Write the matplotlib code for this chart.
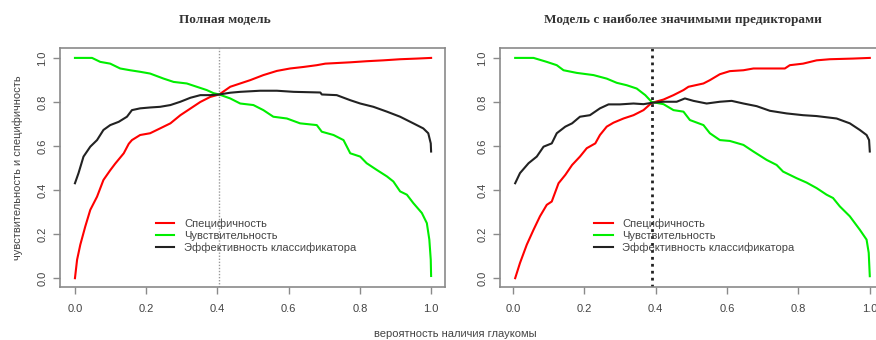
import matplotlib
matplotlib.use("Agg")
import matplotlib.pyplot as plt

# ---------------- data ----------------
titles = ["Полная модель", "Модель с наиболее значимыми предикторами"]
legend_labels = ["Специфичность", "Чувствительность", "Эффективность классификатора"]
xlabel = "вероятность наличия глаукомы"
ylabel = "чувствительность и специфичность"
ticks = [0.0, 0.2, 0.4, 0.6, 0.8, 1.0]
tick_labels = ["0.0", "0.2", "0.4", "0.6", "0.8", "1.0"]

# Left panel (full model)
full_spec_x = [0, 0.006, 0.015, 0.029, 0.043, 0.062, 0.080, 0.099, 0.113, 0.137, 0.151, 0.16, 0.183, 0.211,
               0.239, 0.268, 0.296, 0.324, 0.352, 0.38, 0.405, 0.436, 0.464, 0.492, 0.529, 0.567, 0.604,
               0.642, 0.679, 0.703, 0.773, 0.819, 0.866, 0.913, 0.960, 1.0]
full_spec_y = [0, 0.084, 0.152, 0.235, 0.31, 0.37, 0.446, 0.49, 0.52, 0.567, 0.61, 0.627, 0.65, 0.658,
               0.68, 0.703, 0.74, 0.77, 0.80, 0.823, 0.834, 0.869, 0.884, 0.899, 0.922, 0.941, 0.952,
               0.959, 0.967, 0.974, 0.980, 0.985, 0.989, 0.994, 0.997, 1.0]
full_sens_x = [0, 0.048, 0.071, 0.099, 0.127, 0.155, 0.183, 0.211, 0.249, 0.277, 0.314, 0.342, 0.37, 0.389,
               0.405, 0.436, 0.464, 0.501, 0.529, 0.557, 0.595, 0.632, 0.679, 0.693, 0.726, 0.754, 0.773,
               0.801, 0.819, 0.847, 0.876, 0.894, 0.913, 0.932, 0.95, 0.974, 0.988, 0.995, 0.999, 1.0]
full_sens_y = [1.0, 1.0, 0.982, 0.974, 0.952, 0.944, 0.937, 0.929, 0.906, 0.891, 0.884, 0.869, 0.854, 0.840,
               0.834, 0.816, 0.793, 0.786, 0.763, 0.733, 0.725, 0.703, 0.695, 0.665, 0.65, 0.627, 0.567,
               0.552, 0.522, 0.492, 0.462, 0.439, 0.394, 0.379, 0.341, 0.296, 0.25, 0.175, 0.084, 0.01]
full_acc_x = [0, 0.01, 0.024, 0.043, 0.062, 0.080, 0.099, 0.123, 0.146, 0.16, 0.183, 0.211, 0.239, 0.268,
              0.296, 0.324, 0.352, 0.38, 0.405, 0.436, 0.464, 0.52, 0.567, 0.614, 0.689, 0.693, 0.735,
              0.773, 0.801, 0.838, 0.876, 0.913, 0.95, 0.978, 0.992, 0.999, 1.0]
full_acc_y = [0.431, 0.477, 0.552, 0.597, 0.627, 0.673, 0.695, 0.71, 0.733, 0.763, 0.771, 0.775, 0.778, 0.786,
              0.801, 0.819, 0.831, 0.831, 0.834, 0.842, 0.846, 0.851, 0.851, 0.846, 0.843, 0.834, 0.831,
              0.808, 0.793, 0.778, 0.756, 0.733, 0.703, 0.68, 0.658, 0.612, 0.575]
full_cutoff = 0.405

# Right panel (reduced model)
red_spec_x = [0.0065, 0.02, 0.039, 0.058, 0.076, 0.095, 0.109, 0.128, 0.147, 0.166, 0.188, 0.207, 0.231,
              0.244, 0.263, 0.282, 0.31, 0.338, 0.366, 0.389, 0.422, 0.45, 0.478, 0.492, 0.534, 0.552,
              0.58, 0.608, 0.646, 0.674, 0.72, 0.762, 0.776, 0.813, 0.851, 0.888, 0.953, 1.0]
red_spec_y = [0.0, 0.069, 0.152, 0.22, 0.281, 0.333, 0.348, 0.431, 0.469, 0.514, 0.552, 0.59, 0.612,
              0.65, 0.688, 0.706, 0.725, 0.74, 0.763, 0.796, 0.811, 0.831, 0.854, 0.869, 0.884, 0.899,
              0.926, 0.94, 0.944, 0.952, 0.952, 0.952, 0.967, 0.974, 0.989, 0.994, 0.997, 1.0]
red_sens_x = [0.0065, 0.058, 0.095, 0.123, 0.142, 0.179, 0.226, 0.263, 0.291, 0.319, 0.347, 0.371, 0.389,
              0.422, 0.45, 0.478, 0.496, 0.534, 0.552, 0.58, 0.608, 0.646, 0.674, 0.711, 0.739, 0.757,
              0.795, 0.823, 0.851, 0.879, 0.897, 0.916, 0.944, 0.972, 0.991, 0.997, 1.0]
red_sens_y = [1.0, 1.0, 0.982, 0.967, 0.944, 0.932, 0.922, 0.906, 0.887, 0.876, 0.861, 0.831, 0.800,
              0.79, 0.763, 0.756, 0.718, 0.695, 0.658, 0.627, 0.623, 0.605, 0.575, 0.537, 0.514, 0.484,
              0.454, 0.434, 0.409, 0.379, 0.364, 0.326, 0.281, 0.22, 0.175, 0.115, 0.009]
red_acc_x = [0.0065, 0.02, 0.044, 0.067, 0.086, 0.109, 0.123, 0.147, 0.166, 0.188, 0.216, 0.244, 0.268,
             0.3, 0.338, 0.366, 0.389, 0.422, 0.459, 0.482, 0.506, 0.543, 0.58, 0.613, 0.646, 0.683,
             0.72, 0.767, 0.813, 0.851, 0.907, 0.944, 0.972, 0.991, 0.998, 1.0]
red_acc_y = [0.431, 0.477, 0.522, 0.552, 0.597, 0.612, 0.658, 0.688, 0.703, 0.733, 0.74, 0.771, 0.789,
             0.789, 0.793, 0.79, 0.796, 0.801, 0.801, 0.816, 0.805, 0.793, 0.801, 0.805, 0.793, 0.781,
             0.76, 0.748, 0.74, 0.736, 0.725, 0.703, 0.673, 0.65, 0.627, 0.575]
red_cutoff = 0.389

# ---------------- figure ----------------
W, H = 876, 340
fig = plt.figure(figsize=(W / 100, H / 100), dpi=100)
fig.patch.set_facecolor("white")

sans = ["Liberation Sans", "DejaVu Sans"]
serif = ["Liberation Serif", "DejaVu Serif"]
txtcol = "#444444"
boxcol = "#8a8a8a"

def px_axes(x0, x1, y0, y1):
    return fig.add_axes([x0 / W, 1 - y1 / H, (x1 - x0) / W, (y1 - y0) / H])

ax1 = px_axes(60, 445, 48, 287)
ax2 = px_axes(500, 883, 48, 287)

panels = [
    (ax1, (-0.042, 1.039), full_spec_x, full_spec_y, full_sens_x, full_sens_y, full_acc_x, full_acc_y,
     full_cutoff, dict(color="#999999", lw=1.0, ls=(0, (1, 1.2)))),
    (ax2, (-0.036, 1.037), red_spec_x, red_spec_y, red_sens_x, red_sens_y, red_acc_x, red_acc_y,
     red_cutoff, dict(color="#222222", lw=2.0, ls=(0, (1, 1.5)))),
]

for i, (ax, xl, sx, sy, nx, ny, ax_, ay, cut, vst) in enumerate(panels):
    ax.set_xlim(*xl)
    ax.set_ylim(-0.04, 1.045)
    l1, = ax.plot(sx, sy, color="#ff0000", lw=1.5, label=legend_labels[0])
    l2, = ax.plot(nx, ny, color="#00ee00", lw=1.5, label=legend_labels[1])
    l3, = ax.plot(ax_, ay, color="#222222", lw=1.5, label=legend_labels[2])
    ax.axvline(cut, **vst, zorder=1)
    ax.set_xticks(ticks)
    ax.set_xticklabels(tick_labels)
    ax.set_yticks(ticks)
    ax.set_yticklabels(tick_labels, rotation=90, va="center")
    ax.tick_params(axis="both", direction="out", length=5, width=1.0, color=boxcol,
                   labelsize=8, labelcolor=txtcol)
    ax.tick_params(axis="x", pad=7.5)
    ax.tick_params(axis="y", pad=4)
    for lab in ax.get_xticklabels() + ax.get_yticklabels():
        lab.set_fontfamily(sans)
    for s in ax.spines.values():
        s.set_color(boxcol)
        s.set_linewidth(1.2)
    leg = ax.legend(handles=[l1, l2, l3], loc="upper left", frameon=False,
                    bbox_to_anchor=(0.228, 0.27), bbox_transform=ax.transData,
                    prop={"family": sans, "size": 8}, handlelength=1.65, handletextpad=0.85,
                    labelspacing=0.15, borderpad=0, borderaxespad=0)
    for t in leg.get_texts():
        t.set_color(txtcol)

fig.text(225 / W, 1 - 20 / H, titles[0], ha="center", va="center", fontfamily=serif,
         fontsize=9.5, fontweight="bold", color="#333333")
fig.text(683 / W, 1 - 20 / H, titles[1], ha="center", va="center", fontfamily=serif,
         fontsize=9.5, fontweight="bold", color="#333333")

fig.text(18 / W, 1 - 168 / H, ylabel, rotation=90, ha="center", va="center",
         fontfamily=sans, fontsize=8, color=txtcol)
fig.text(455 / W, 1 - 334 / H, xlabel, ha="center", va="center",
         fontfamily=sans, fontsize=8, color=txtcol)

fig.savefig("out.png", dpi=100, facecolor="white")
